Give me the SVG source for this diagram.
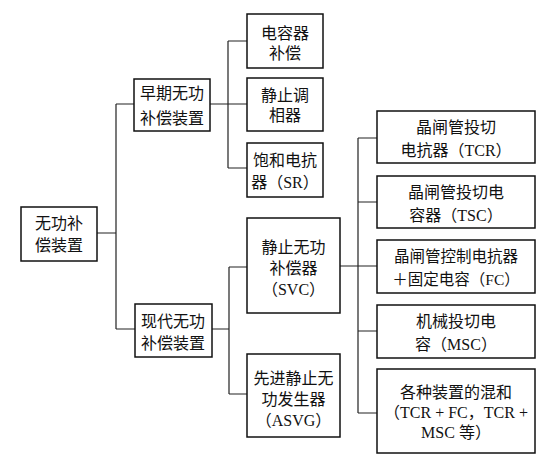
<svg xmlns="http://www.w3.org/2000/svg" width="551" height="467" viewBox="0 0 551 467">
<style>
.box{fill:#fff;stroke:#111;stroke-width:1.5}
.ln{fill:none;stroke:#222;stroke-width:1.2}
text{font-family:"Liberation Serif","Noto Sans CJK SC",serif;font-size:16px;fill:#111;text-anchor:middle;dominant-baseline:central}
</style>
<rect width="551" height="467" fill="#fff"/>
<g id="connectors">
<path class="ln" d="M97,233 H116 M116,104 V329 M116,104 H134 M116,329 H135"/>
<path class="ln" d="M210,104 H247 M228,41 V168 M228,41 H247 M228,168 H247"/>
<path class="ln" d="M212,329 H229 M229,267 V394 M229,267 H247 M229,394 H247"/>
<path class="ln" d="M340,266 H377 M358,138 V413 M358,138 H377 M358,202 H377 M358,331 H377 M358,413 H377"/>
</g>
<g id="root"><rect class="box" x="21" y="207" width="76" height="54"/><text x="59" y="223">无功补</text><text x="59" y="245">偿装置</text></g>
<g id="early"><rect class="box" x="134" y="79" width="76" height="52"/><text x="172" y="93">早期无功</text><text x="172" y="118">补偿装置</text></g>
<g id="modern"><rect class="box" x="135" y="304" width="77" height="53"/><text x="173" y="321">现代无功</text><text x="173" y="343">补偿装置</text></g>
<g id="cap"><rect class="box" x="247" y="14" width="76" height="54"/><text x="285" y="33">电容器</text><text x="285" y="53">补偿</text></g>
<g id="sync"><rect class="box" x="247" y="78" width="76" height="53"/><text x="285" y="95">静止调</text><text x="285" y="115">相器</text></g>
<g id="sr"><rect class="box" x="247" y="143" width="76" height="54"/><text x="285" y="160">饱和电抗</text><text x="285" y="182">器（SR）</text></g>
<g id="svc"><rect class="box" x="247" y="218" width="93" height="95"/><text x="293.5" y="247">静止无功</text><text x="293.5" y="268">补偿器</text><text x="293.5" y="289">（SVC）</text></g>
<g id="asvg"><rect class="box" x="247" y="354" width="93" height="83"/><text x="293.5" y="378">先进静止无</text><text x="293.5" y="399">功发生器</text><text x="293.5" y="420">（ASVG）</text></g>
<g id="tcr"><rect class="box" x="377" y="111" width="158" height="52"/><text x="456" y="127">晶闸管投切</text><text x="456" y="150">电抗器（TCR）</text></g>
<g id="tsc"><rect class="box" x="377" y="176" width="158" height="52"/><text x="456" y="192">晶闸管投切电</text><text x="456" y="215">容器（TSC）</text></g>
<g id="fc"><rect class="box" x="377" y="240" width="158" height="53"/><text x="456" y="256" style="font-size:15.5px">晶闸管控制电抗器</text><text x="456" y="279" style="font-size:15.5px">＋固定电容（FC）</text></g>
<g id="msc"><rect class="box" x="377" y="305" width="158" height="53"/><text x="456" y="321">机械投切电</text><text x="456" y="344">容（MSC）</text></g>
<g id="mix"><rect class="box" x="377" y="369" width="158" height="84"/><text x="456" y="392">各种装置的混和</text><text x="456" y="412">（TCR + FC，TCR +</text><text x="456" y="432">MSC 等）</text></g>
</svg>
